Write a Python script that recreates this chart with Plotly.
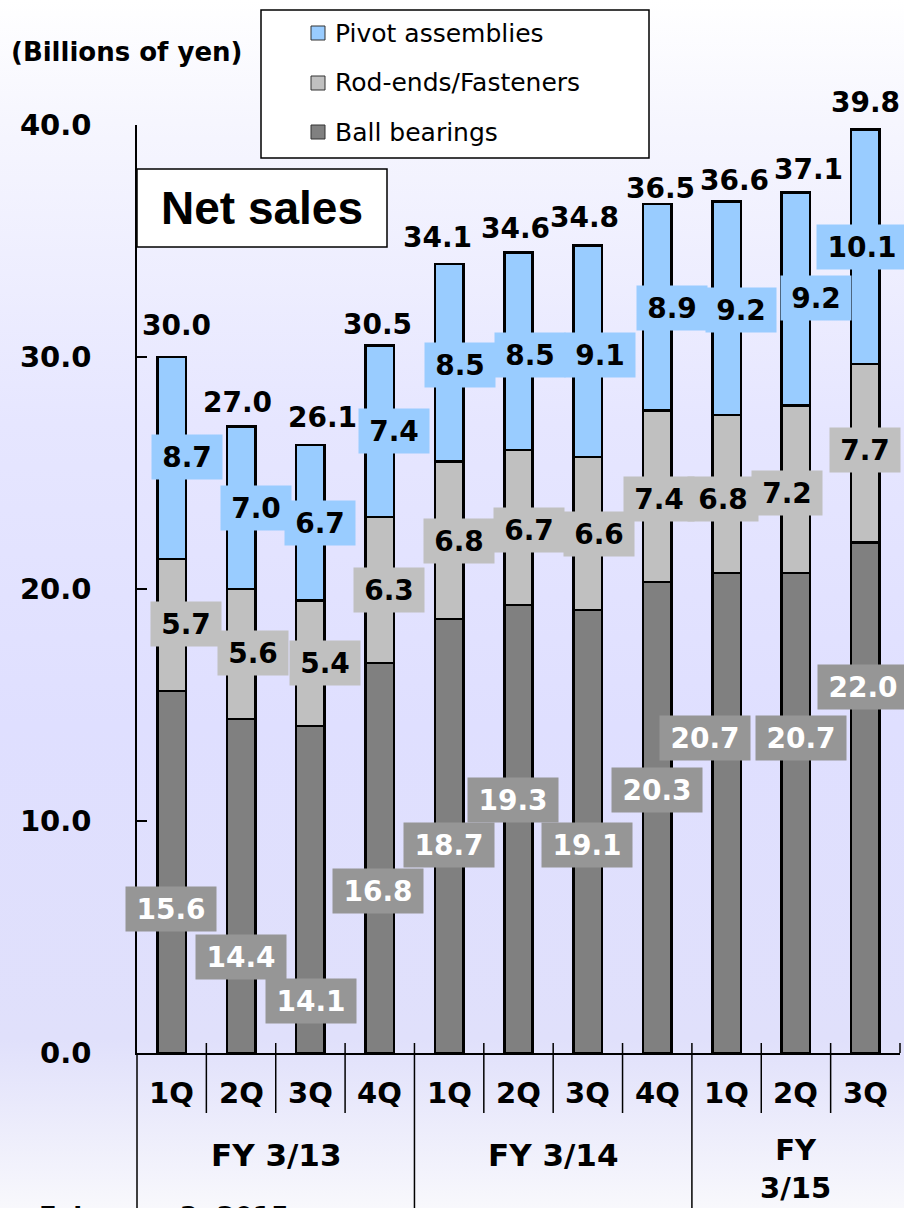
import base64
import plotly.graph_objects as go

# ---------------- data ----------------
quarters = ["1Q", "2Q", "3Q", "4Q", "1Q", "2Q", "3Q", "4Q", "1Q", "2Q", "3Q"]
fiscal_years = ["FY 3/13", "FY 3/14", "FY<br>3/15"]
fy_first = [0, 4, 8]
fy_last = [3, 7, 10]
ball = [15.6, 14.4, 14.1, 16.8, 18.7, 19.3, 19.1, 20.3, 20.7, 20.7, 22.0]
rod = [5.7, 5.6, 5.4, 6.3, 6.8, 6.7, 6.6, 7.4, 6.8, 7.2, 7.7]
pivot = [8.7, 7.0, 6.7, 7.4, 8.5, 8.5, 9.1, 8.9, 9.2, 9.2, 10.1]
totals = [30.0, 27.0, 26.1, 30.5, 34.1, 34.6, 34.8, 36.5, 36.6, 37.1, 39.8]
series_names = ["Pivot assemblies", "Rod-ends/Fasteners", "Ball bearings"]
y_ticks = [0, 10, 20, 30, 40]

# ---------------- label placement (layout, data-units / pixel shifts) ----------------
pivot_lbl_y = [25.69, 23.49, 22.84, 26.81, 29.66, 30.09, 30.09, 32.11, 32.03, 32.54, 34.74]
pivot_lbl_dx = [15, 15, 10, 14, 11, 11, 12, 15, 14, 20, -3]
rod_lbl_y = [18.49, 17.24, 16.81, 19.96, 22.07, 22.54, 22.37, 23.88, 23.88, 24.14, 25.99]
rod_lbl_dx = [14, 12, 15, 9, 10, 10, 11, 2, -4, -9, 0]
ball_lbl_y = [6.21, 4.14, 2.24, 6.98, 8.97, 10.91, 8.97, 11.34, 13.58, 13.58, 15.78]
ball_lbl_dx = [-1, 0, 1, -2, 0, -6, -1, 0, -22, 5, -2]
total_lbl_dy = [32, 24, 30, 21, 24, 22, 28, 18, 23, 23, 27]
total_lbl_dx = [5, -4, 12, -2, -12, -3, -3, 3, 8, 13, 0]

# ---------------- style ----------------
C_PIVOT = "#99ccff"
C_ROD = "#c0c0c0"
C_BALL = "#808080"
C_BALL_LBL = "#969696"
BOLD = "DejaVu Sans"
W, H = 904, 1208
ML, MR, MT, MB = 137, 4, 125, 155
PW, PH = W - ML - MR, H - MT - MB


def px_x(px):
    return (px - ML) / PW


def px_y(py):
    return (H - MB - py) / PH


x = list(range(len(quarters)))

fig = go.Figure()
fig.add_bar(x=x, y=ball, name=series_names[2], marker=dict(color=C_BALL, line=dict(color="black", width=2.5)), width=0.41)
fig.add_bar(x=x, y=rod, name=series_names[1], marker=dict(color=C_ROD, line=dict(color="black", width=2.5)), width=0.41)
fig.add_bar(x=x, y=pivot, name=series_names[0], marker=dict(color=C_PIVOT, line=dict(color="black", width=2.5)), width=0.41)

ann = []


def box_label(i, val, yv, dx, bg, fc):
    txt = f"{val:.1f}"
    ann.append(dict(x=i, y=yv, xref="x", yref="y", text=f"<b>{txt}</b>", showarrow=False,
                    xshift=dx, bgcolor=bg, width=20 * len(txt) + 10, height=44, borderpad=0,
                    font=dict(family=BOLD, size=28, color=fc), xanchor="center", yanchor="middle"))


for i in x:
    box_label(i, pivot[i], pivot_lbl_y[i], pivot_lbl_dx[i], C_PIVOT, "black")
    box_label(i, rod[i], rod_lbl_y[i], rod_lbl_dx[i], C_ROD, "black")
    box_label(i, ball[i], ball_lbl_y[i], ball_lbl_dx[i], C_BALL_LBL, "white")
    ann.append(dict(x=i, y=totals[i], xref="x", yref="y", text=f"<b>{totals[i]:.1f}</b>", showarrow=False,
                    xshift=total_lbl_dx[i], yshift=total_lbl_dy[i],
                    font=dict(family=BOLD, size=28, color="black"), xanchor="center", yanchor="middle"))
    # quarter labels
    ann.append(dict(x=i, y=px_y(1093), xref="x", yref="paper", text=f"<b>{quarters[i]}</b>", showarrow=False,
                    font=dict(family=BOLD, size=29, color="black"), xanchor="center", yanchor="middle"))

for k, name in enumerate(fiscal_years):
    two_line = "<br>" in name
    ann.append(dict(x=(fy_first[k] + fy_last[k]) / 2, y=px_y(1169 if two_line else 1155), xref="x", yref="paper",
                    text=f"<b>{name}</b>", showarrow=False,
                    font=dict(family=BOLD, size=29 if two_line else 31, color="black"),
                    xanchor="center", yanchor="middle"))

# unit title
ann.append(dict(x=px_x(126), y=px_y(52), xref="paper", yref="paper", text="<b>(Billions of yen)</b>",
                showarrow=False, font=dict(family=BOLD, size=26, color="black"), xanchor="center", yanchor="middle"))
# Net sales title
ann.append(dict(x=px_x(262), y=px_y(208), xref="paper", yref="paper", text="<b>Net sales</b>",
                showarrow=False, font=dict(family="Liberation Sans", size=46, color="black"),
                xanchor="center", yanchor="middle"))
# date (cut off at the bottom, as in the reference)
ann.append(dict(x=px_x(38), y=px_y(1201), xref="paper", yref="paper", text="<b>February 3, 2015</b>",
                showarrow=False, font=dict(family=BOLD, size=26, color="black"), xanchor="left", yanchor="top",
                borderpad=0))

shapes = []
# legend box
shapes.append(dict(type="rect", xref="paper", yref="paper", x0=px_x(261), x1=px_x(649), y0=px_y(10), y1=px_y(158),
                   fillcolor="white", line=dict(color="black", width=1.5), layer="above"))
leg_cols = [C_PIVOT, C_ROD, C_BALL]
leg_y = [33, 83, 132]
for name, col, ly in zip(series_names, leg_cols, leg_y):
    shapes.append(dict(type="rect", xref="paper", yref="paper", x0=px_x(311), x1=px_x(325),
                       y0=px_y(ly - 7), y1=px_y(ly + 7), fillcolor=col, line=dict(color="#333333", width=1),
                       layer="above"))
    ann.append(dict(x=px_x(333), y=px_y(ly), xref="paper", yref="paper", text=name, showarrow=False,
                    font=dict(family="DejaVu Sans", size=25, color="black"), xanchor="left", yanchor="middle"))
# Net sales box
shapes.append(dict(type="rect", xref="paper", yref="paper", x0=px_x(137), x1=px_x(387), y0=px_y(169), y1=px_y(247),
                   fillcolor="white", line=dict(color="black", width=1.5), layer="above"))

# category dividers
n = len(quarters)
fy_bounds = [0] + [l + 1 for l in fy_last]
for b in range(n + 1):
    xp = b / n
    if b in fy_bounds:
        y0 = px_y(1043) if b > 0 else 0
        y1 = px_y(H + 5)
        if b == n:
            y1 = 0
    else:
        y0, y1 = px_y(1043), px_y(1113)
    shapes.append(dict(type="line", xref="paper", yref="paper", x0=xp, x1=xp, y0=y0, y1=y1,
                       line=dict(color="black", width=1.5), layer="above"))

# background gradient
svg = (
    f"<svg xmlns='http://www.w3.org/2000/svg' width='{W}' height='{H}' preserveAspectRatio='none'>"
    "<defs><linearGradient id='g' x1='0' y1='0' x2='0' y2='1'>"
    "<stop offset='0' stop-color='#ffffff'/>"
    "<stop offset='0.1' stop-color='#f6f6fe'/>"
    "<stop offset='0.35' stop-color='#e6e6ff'/>"
    "<stop offset='0.6' stop-color='#dfdfff'/>"
    "<stop offset='0.86' stop-color='#e0e0fb'/>"
    "<stop offset='1' stop-color='#f8f8fc'/>"
    "</linearGradient></defs>"
    f"<rect width='{W}' height='{H}' fill='url(#g)'/></svg>"
)
src = "data:image/svg+xml;base64," + base64.b64encode(svg.encode()).decode()

fig.update_layout(
    width=W, height=H,
    margin=dict(l=ML, r=MR, t=MT, b=MB, pad=0),
    barmode="stack",
    showlegend=False,
    paper_bgcolor="white",
    plot_bgcolor="rgba(0,0,0,0)",
    annotations=ann,
    shapes=shapes,
    images=[dict(source=src, xref="paper", yref="paper", x=px_x(0), y=px_y(0), sizex=W / PW, sizey=H / PH,
                 xanchor="left", yanchor="top", sizing="stretch", layer="below")],
    hovermode=False,
    xaxis=dict(range=[-0.5, n - 0.5], showticklabels=False, ticks="", showline=True, linecolor="black",
               linewidth=1.5, showgrid=False, zeroline=False, fixedrange=True),
    yaxis=dict(range=[0, 40], tickvals=y_ticks, ticktext=[f"<b>{v:.1f}</b>" for v in y_ticks],
               ticks="inside", ticklen=10,
               tickwidth=1.5, tickcolor="black", showline=True, linecolor="black", linewidth=1.5,
               showgrid=False, zeroline=False, ticklabelstandoff=38,
               tickfont=dict(family=BOLD, size=29, color="black"), fixedrange=True),
)

fig.write_html("out.html", config={"displayModeBar": False},
               post_script="document.body.style.margin='0';document.body.style.overflow='hidden';")
